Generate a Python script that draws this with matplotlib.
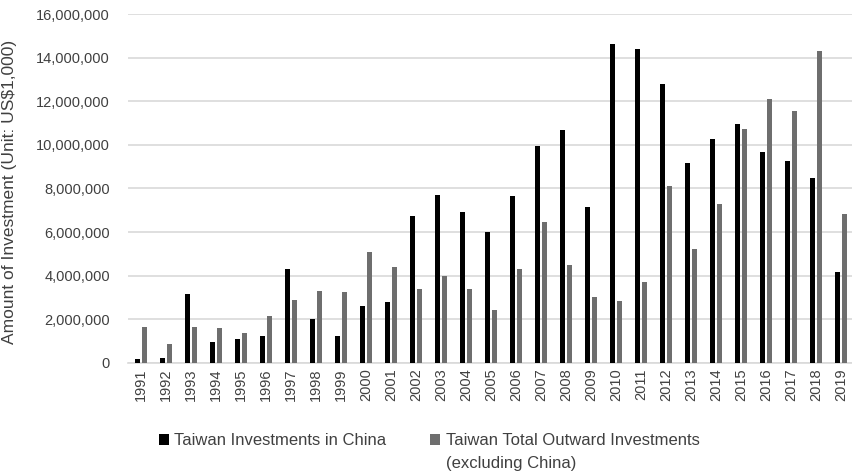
import matplotlib.pyplot as plt
import numpy as np

TEXT_COLOR = '#404040'
GRID_COLOR = '#d9d9d9'
CHINA_COLOR = '#000000'
OUTWARD_COLOR = '#6e6e6e'

years = [str(y) for y in range(1991, 2020)]
china = [175000, 250000, 3170000, 960000, 1090000, 1230000, 4330000, 2030000,
         1250000, 2600000, 2780000, 6720000, 7700000, 6940000, 6000000, 7640000,
         9970000, 10690000, 7140000, 14620000, 14380000, 12790000, 9190000,
         10280000, 10970000, 9670000, 9250000, 8500000, 4170000]
outward = [1660000, 890000, 1660000, 1620000, 1360000, 2170000, 2890000, 3300000,
           3270000, 5080000, 4390000, 3370000, 3970000, 3380000, 2450000, 4320000,
           6470000, 4470000, 3010000, 2820000, 3700000, 8100000, 5230000,
           7290000, 10750000, 12120000, 11570000, 14300000, 6850000]
yticks = np.arange(0, 16000001, 2000000)

plt.rcParams['font.family'] = ['Liberation Sans', 'DejaVu Sans']

fig = plt.figure(figsize=(8.53, 4.73), dpi=100)
ax = fig.add_axes([0.150, 0.2326, 0.850, 0.7378])

xs = np.arange(len(years))
w = 0.23
b1 = ax.bar(xs - 0.14, china, width=w, color=CHINA_COLOR, zorder=3,
            label='Taiwan Investments in China')
b2 = ax.bar(xs + 0.14, outward, width=w, color=OUTWARD_COLOR, zorder=3,
            label='Taiwan Total Outward Investments')

ax.set_xlim(-0.52, len(years) - 0.52)
ax.set_ylim(0, 16000000)
ax.set_yticks(yticks)
ax.set_yticklabels(['{:,}'.format(v) for v in yticks], fontsize=10.5, color=TEXT_COLOR)
ax.set_xticks(xs)
ax.set_xticklabels(years, rotation=90, fontsize=10.5, color=TEXT_COLOR)
ax.tick_params(axis='y', length=0, pad=13)
ax.tick_params(axis='x', length=0, pad=4)
ax.yaxis.grid(True, color=GRID_COLOR, linewidth=1.2, zorder=0)
ax.set_axisbelow(True)
for s in ['top', 'right', 'left']:
    ax.spines[s].set_visible(False)
ax.spines['bottom'].set_color(GRID_COLOR)
ax.spines['bottom'].set_linewidth(1.2)

ax.set_ylabel('Amount of Investment (Unit: US$1,000)', fontsize=12.5, color=TEXT_COLOR)
ax.yaxis.set_label_coords(-0.153, 0.49)

leg = fig.legend(handles=[b1, b2], loc='center left', bbox_to_anchor=(0.186, 0.0677),
                 ncol=2, frameon=False, handlelength=0.6, handleheight=0.6,
                 handletextpad=0.35, columnspacing=2.6, borderpad=0, borderaxespad=0,
                 fontsize=12)
for t in leg.get_texts():
    t.set_color(TEXT_COLOR)

# second line of the second legend entry, aligned under its first line
fig.canvas.draw()
bb = leg.get_texts()[1].get_window_extent().transformed(fig.transFigure.inverted())
fig.text(bb.x0, 0.021, '(excluding China)', fontsize=12, color=TEXT_COLOR,
         ha='left', va='center')

fig.savefig('out.png', dpi=100)
